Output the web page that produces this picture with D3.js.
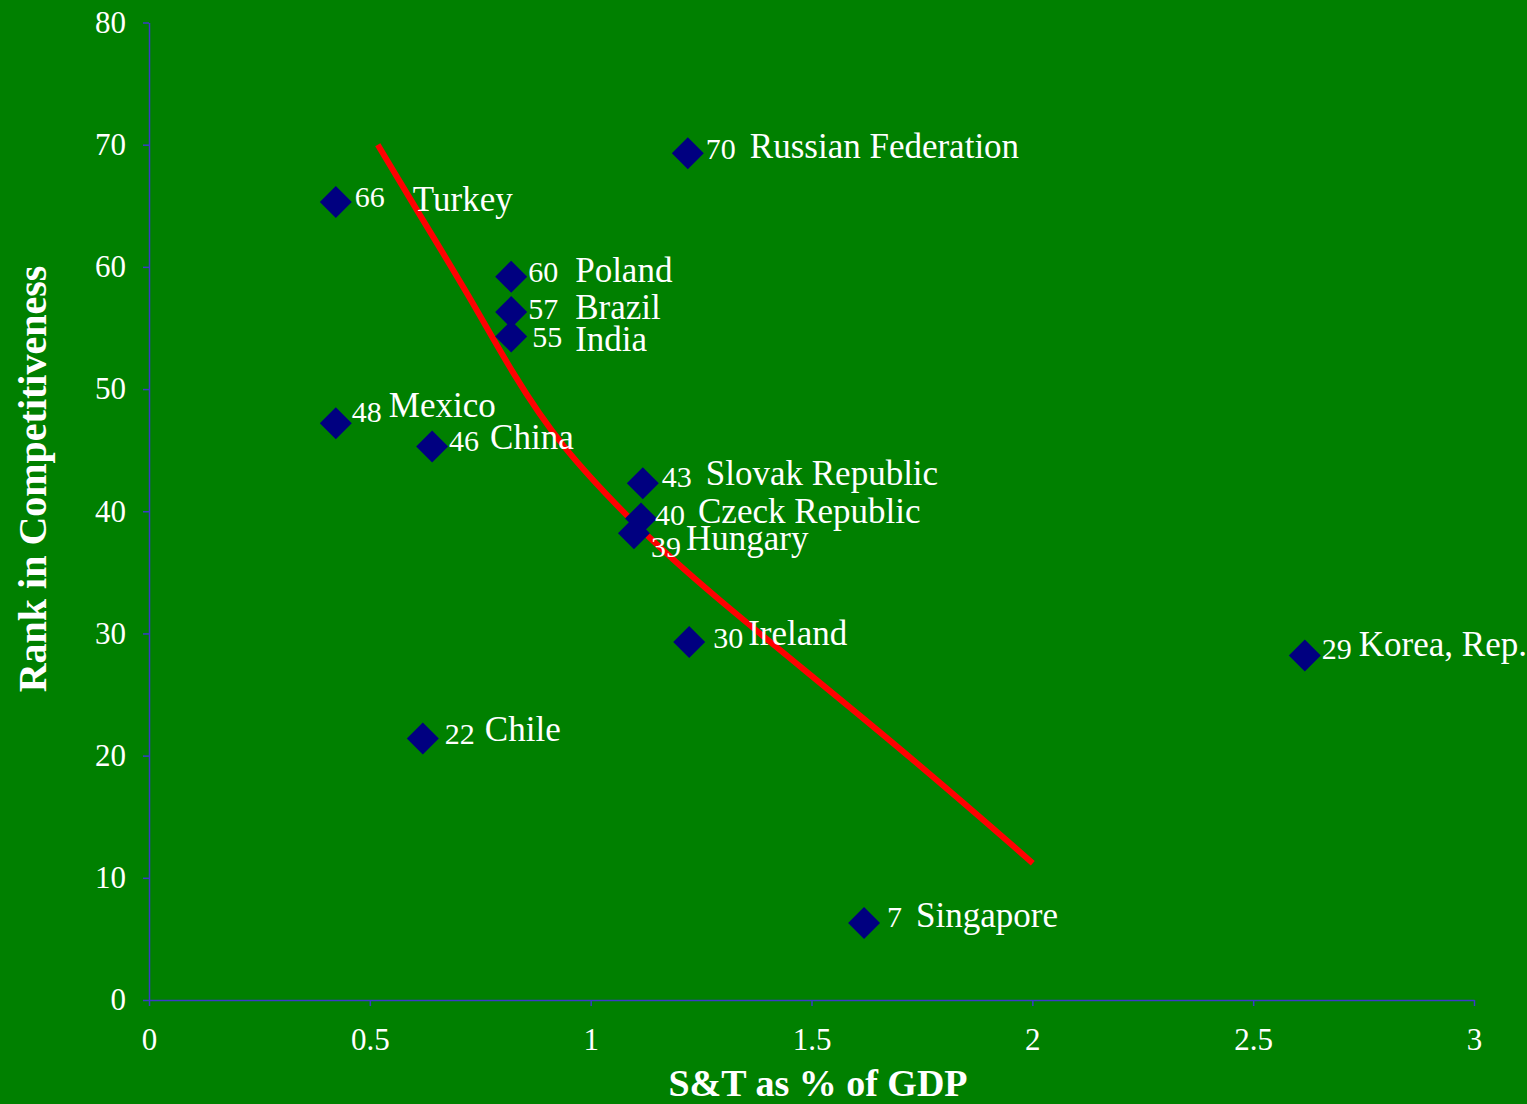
<!DOCTYPE html>
<head>
    <meta charset="utf-8">
    <script src="https://d3js.org/d3.v7.min.js"></script>
    <style>
        body { margin:0; background: #008000; }
        svg { display: block; }
        text { font-family: "Liberation Serif", "Times New Roman", serif; fill: white; }
        .axis path, .axis line { stroke: #3b3bc8; stroke-width: 1.5; }
        .axis text { font-size: 31px; fill: white; }
        .title { font-size: 38px; font-weight: bold; text-anchor: middle; }
        .ytitle { font-size: 40px; }
        .num { font-size: 30px; }
        .name { font-size: 35px; }
        .trend { fill: none; stroke: #ff0000; stroke-width: 6; }
        .pt { fill: #000080; }
    </style>
</head>

<body>
<script>
    // scatter values
    var countries = ['Russian Federation', 'Turkey', 'Poland', 'Brazil', 'India', 'Mexico', 'China',
        'Slovak Republic', 'Czeck Republic', 'Hungary', 'Ireland', 'Korea, Rep.', 'Chile', 'Singapore'];
    var stShare = [1.22, 0.423, 0.82, 0.82, 0.82, 0.423, 0.641, 1.118, 1.114, 1.098, 1.223, 2.617, 0.62, 1.619];
    var rankPos = [69.3, 65.3, 59.2, 56.3, 54.3, 47.2, 45.3, 42.3, 39.4, 38.2, 29.3, 28.2, 21.4, 6.3];
    var rankLabel = ['70', '66', '60', '57', '55', '48', '46', '43', '40', '39', '30', '29', '22', '7'];

    // red trend curve
    var trendX = [0.518, 0.607, 0.727, 0.824, 0.93, 1.089, 1.241, 1.7, 2.001];
    var trendY = [70.0, 64.6, 57.5, 51.2, 45.4, 39.3, 34.1, 20.7, 11.2];

    var xTicks = [0, 0.5, 1, 1.5, 2, 2.5, 3];
    var yTicks = [0, 10, 20, 30, 40, 50, 60, 70, 80];

    // label placement: [num dx, num dy, name dx, name dy]
    var labelOffsets = [
        [18, 6, 62, 5], [19, 5, 77, 9], [17, 5, 64, 5], [17, 7, 64, 7], [21, 10, 64, 14],
        [16, -1, 53, -6], [17, 5, 58, 3], [19, 4, 63, 2], [14, 6, 57, 4], [17, 24, 52, 17],
        [24, 6, 59, 3], [17, 4, 54, 1], [22, 5, 62, 2], [23, 4, 52, 4]
    ];

    var width = 1527;
    var height = 1104;

    var svg = d3.select("body").append("svg")
        .attr("width", width)
        .attr("height", height);

    svg.append('rect').attr('width', width).attr('height', height).attr('fill', '#008000');

    var x = d3.scaleLinear().domain([0, 3]).range([149, 1474]);
    var y = d3.scaleLinear().domain([0, 80]).range([1000, 22.5]);

    svg.append('g')
        .attr('class', 'axis')
        .attr('transform', 'translate(0,' + y(0) + ')')
        .call(d3.axisBottom(x).tickValues(xTicks).tickFormat(d3.format('')).tickSize(6).tickSizeOuter(0).tickPadding(22));

    svg.append('g')
        .attr('class', 'axis')
        .attr('transform', 'translate(' + x(0) + ',0)')
        .call(d3.axisLeft(y).tickValues(yTicks).tickSize(6).tickSizeOuter(0).tickPadding(17));

    svg.selectAll('.axis text').attr('font-family', null).style('font-family', '"Liberation Serif", serif');

    // trend line
    var line = d3.line()
        .x((d, i) => x(trendX[i]))
        .y(d => y(d))
        .curve(d3.curveBasis);

    svg.append('path')
        .attr('class', 'trend')
        .attr('d', line(trendY));

    var pts = countries.map((c, i) => ({ name: c, sx: stShare[i], ry: rankPos[i], lab: rankLabel[i], off: labelOffsets[i] }));

    var diamond = 'M0,-16L16,0L0,16L-16,0Z';

    var g = svg.selectAll('.p')
        .data(pts)
        .enter()
        .append('g')
        .attr('transform', d => 'translate(' + x(d.sx) + ',' + y(d.ry) + ')');

    g.append('path').attr('class', 'pt').attr('d', diamond);

    g.append('text')
        .attr('class', 'num')
        .attr('x', d => d.off[0])
        .attr('y', d => d.off[1])
        .text(d => d.lab);

    g.append('text')
        .attr('class', 'name')
        .attr('x', d => d.off[2])
        .attr('y', d => d.off[3])
        .text(d => d.name);

    // axis titles
    svg.append('text')
        .attr('class', 'title')
        .attr('x', 818)
        .attr('y', 1096)
        .text('S&T as % of GDP');

    svg.append('text')
        .attr('class', 'title ytitle')
        .attr('transform', 'translate(46,479) rotate(-90)')
        .text('Rank in Competitiveness');
</script>
</body>
